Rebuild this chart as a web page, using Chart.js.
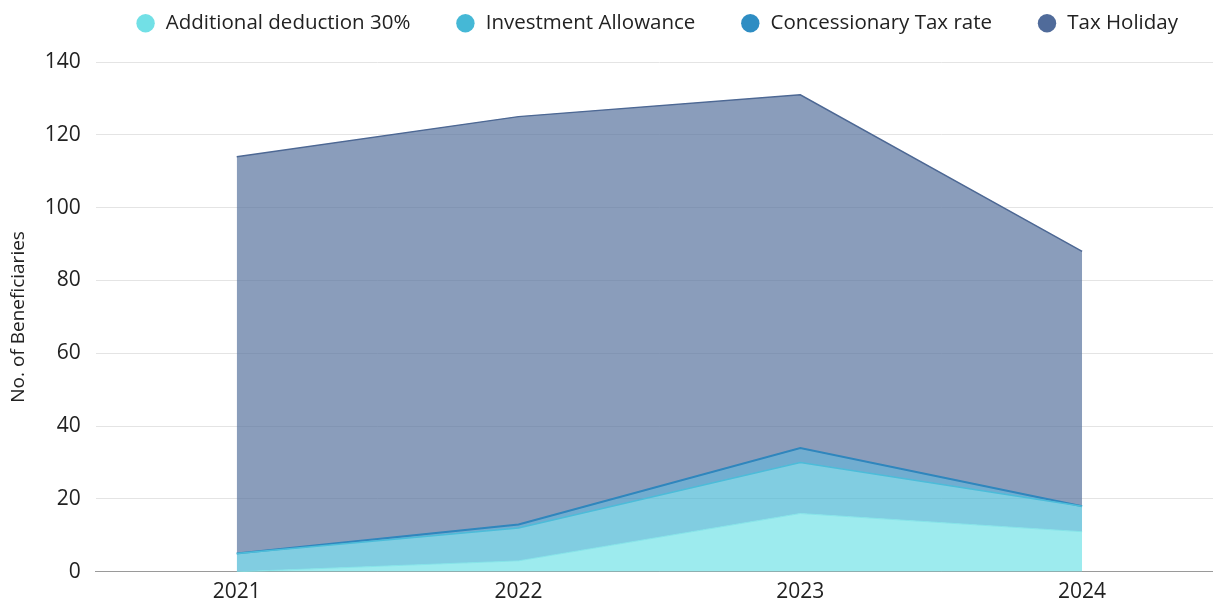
<!DOCTYPE html>
<html>
<head>
<meta charset="utf-8">
<script src="https://cdn.jsdelivr.net/npm/chart.js@4"></script>
<style>
  html, body { margin: 0; padding: 0; background: #ffffff; overflow: hidden; }
  #wrap { width: 1225px; height: 600px; position: relative; }
</style>
</head>
<body>
<div id="wrap"><canvas id="chart"></canvas></div>
<script>
// Years on the x axis
const years = ['2021', '2022', '2023', '2024'];

// Beneficiaries per incentive type (stacked)
const additionalDeduction = [0, 3, 16, 11];
const investmentAllowance = [5, 9, 14, 7];
const concessionaryTaxRate = [0, 1, 4, 0];
const taxHoliday = [109, 112, 97, 70];

const seriesNames = ['Additional deduction 30%', 'Investment Allowance', 'Concessionary Tax rate', 'Tax Holiday'];
const yTicks = [0, 20, 40, 60, 80, 100, 120, 140];

const FONT = "'Open Sans', 'Lato', sans-serif";

// Gives the legend block a fixed height so the plot starts lower
const legendHeight = {
  id: 'legendHeight',
  beforeInit(chart) {
    const fit = chart.legend.fit;
    chart.legend.fit = function () {
      fit.call(this);
      this.height = 94;
    };
  }
};

const ctx = document.getElementById('chart');
new Chart(ctx, {
  type: 'line',
  plugins: [legendHeight],
  data: {
    labels: years,
    datasets: [
      {
        label: seriesNames[0], data: additionalDeduction, fill: 'origin',
        backgroundColor: 'rgba(115,226,231,0.7)', borderColor: '#86e4e9', borderWidth: 1,
        pointRadius: 0, tension: 0, legendColor: '#72e0e6'
      },
      {
        label: seriesNames[1], data: investmentAllowance, fill: '-1',
        backgroundColor: 'rgba(75,184,212,0.7)', borderColor: '#4cbcd9', borderWidth: 1.5,
        pointRadius: 0, tension: 0, legendColor: '#45b8d6'
      },
      {
        label: seriesNames[2], data: concessionaryTaxRate, fill: '-1',
        backgroundColor: 'rgba(52,138,188,0.7)', borderColor: '#2f86bd', borderWidth: 2,
        pointRadius: 0, tension: 0, legendColor: '#2e8dc3'
      },
      {
        label: seriesNames[3], data: taxHoliday, fill: '-1',
        backgroundColor: 'rgba(88,115,158,0.7)', borderColor: '#4d6894', borderWidth: 1.5,
        pointRadius: 0, tension: 0, legendColor: '#506b9a'
      }
    ]
  },
  options: {
    responsive: true,
    maintainAspectRatio: false,
    animation: false,
    layout: { padding: { top: -32, left: 7, right: 2, bottom: -13 } },
    plugins: {
      tooltip: { enabled: false },
      filler: { propagate: false },
      legend: {
        display: true,
        position: 'top',
        align: 'end',
        labels: {
          usePointStyle: true,
          pointStyle: 'circle',
          boxWidth: 20,
          boxHeight: 13,
          padding: 45,
          color: '#222222',
          font: { family: FONT, size: 20.5 },
          generateLabels(chart) {
            return chart.data.datasets.map((ds, i) => ({
              text: ds.label,
              fillStyle: ds.legendColor,
              strokeStyle: ds.legendColor,
              lineWidth: 0,
              pointStyle: 'circle',
              hidden: false,
              datasetIndex: i,
              fontColor: '#222222'
            }));
          }
        }
      }
    },
    scales: {
      x: {
        offset: true,
        grid: { display: false, drawTicks: false },
        border: { display: true, color: '#9a9a9a', width: 1 },
        ticks: { color: '#222222', font: { family: FONT, size: 21 }, padding: 8 }
      },
      y: {
        stacked: true,
        min: 0,
        max: 140,
        afterBuildTicks(axis) { axis.ticks = yTicks.map(v => ({ value: v })); },
        grid: {
          color: (c) => c.tick && c.tick.value === 0 ? '#9a9a9a' : '#e4e4e4',
          lineWidth: 1,
          drawTicks: false
        },
        border: { display: false },
        ticks: { color: '#222222', font: { family: FONT, size: 21 }, padding: 15 },
        title: {
          display: true,
          text: 'No. of Beneficiaries',
          color: '#222222',
          font: { family: FONT, size: 19 },
          padding: { top: 0, bottom: 0 }
        }
      }
    }
  }
});
</script>
</body>
</html>
